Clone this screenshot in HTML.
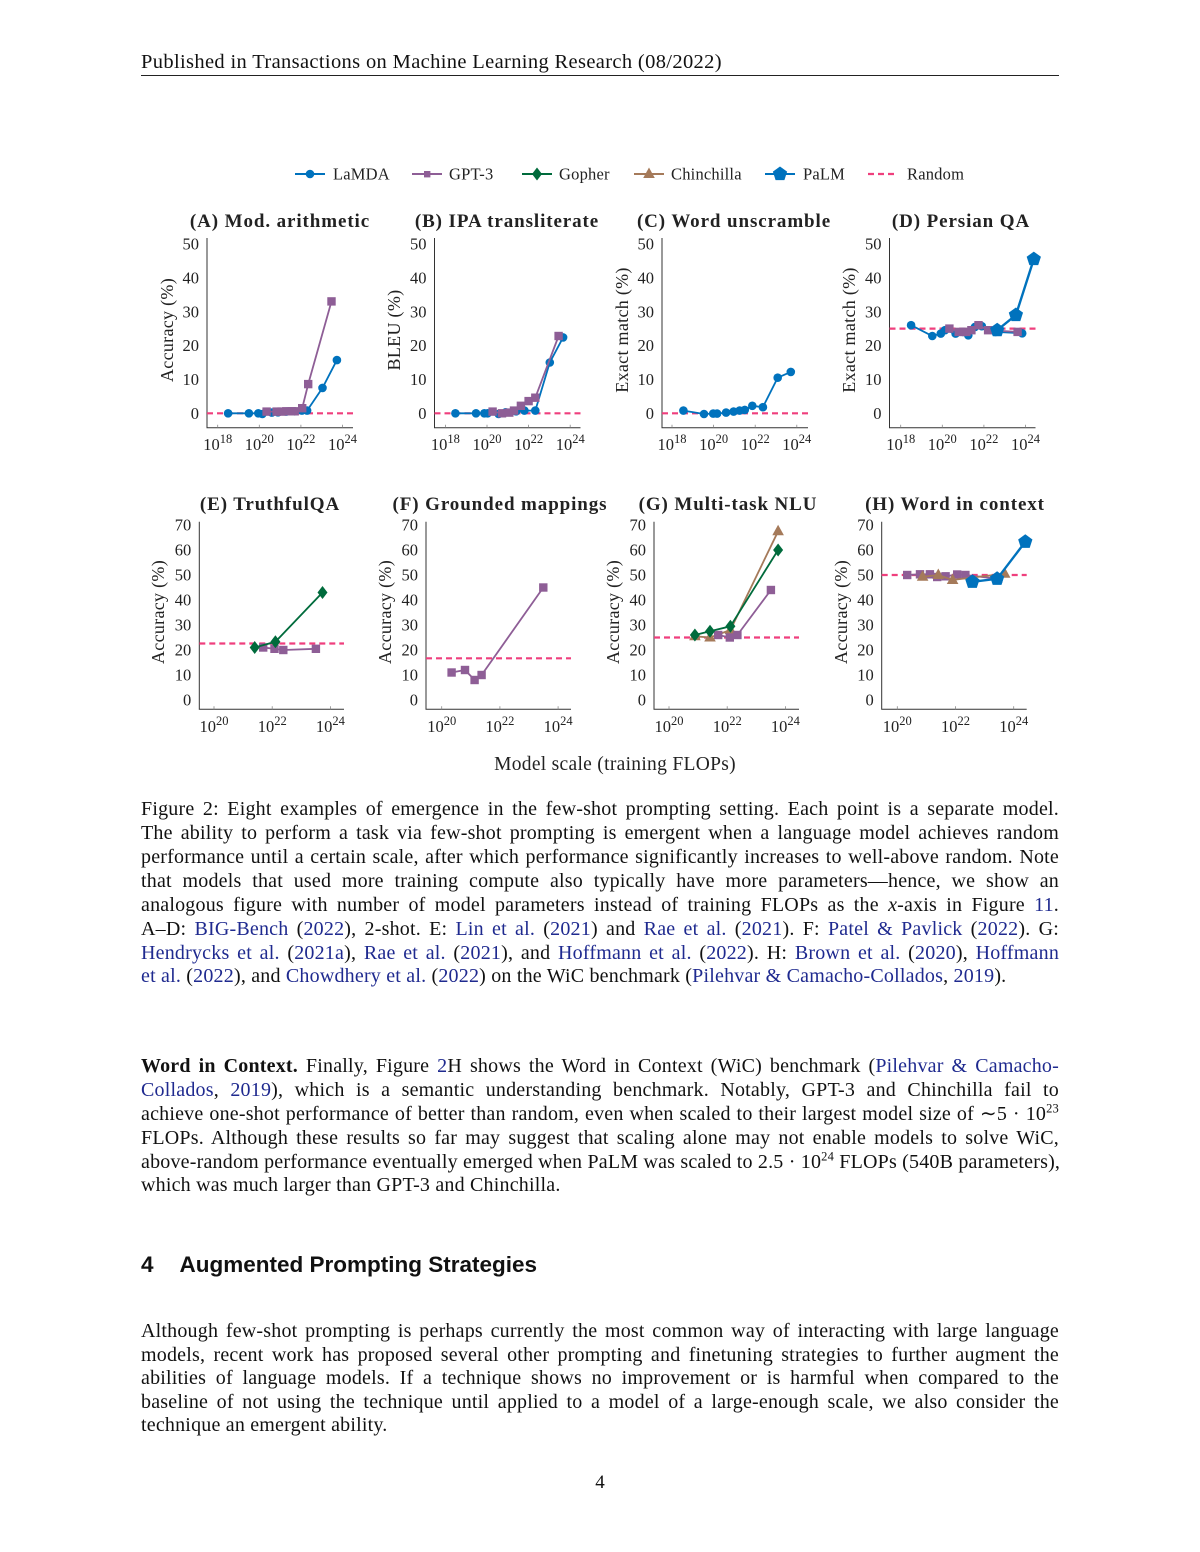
<!DOCTYPE html>
<html><head><meta charset="utf-8">
<style>
html,body{margin:0;padding:0;background:#fff;}
body{width:1200px;height:1552px;position:relative;overflow:hidden;font-family:"Liberation Serif",serif;color:#111;}
.l{position:absolute;left:141px;width:918px;height:24px;line-height:24px;font-size:20px;letter-spacing:0.2px;text-align:justify;text-align-last:justify;white-space:nowrap;}
.l.last{text-align-last:left;}
a{color:#1f2a8f;text-decoration:none;}
svg{position:absolute;left:0;top:0;}
sup{font-size:12.5px;line-height:0;}
</style></head><body>
<div style="position:absolute;left:141px;top:49px;font-size:20.5px;letter-spacing:0.35px;line-height:26px;">Published in Transactions on Machine Learning Research (08/2022)</div>
<div style="position:absolute;left:141px;top:75px;width:918px;height:1px;background:#222;"></div>

<svg width="1200" height="790" viewBox="0 0 1200 790" font-family="Liberation Serif, serif" fill="#222">
<defs>
<circle id="c" r="4.3"/>
<rect id="s" x="-4.2" y="-4.2" width="8.4" height="8.4"/>
<polygon id="d" points="0,-6.5 5,0 0,6.5 -5,0"/>
<polygon id="t" points="0,-6.5 5.8,4 -5.8,4"/>
<polygon id="p" points="0,-7.5 7.13,-2.32 4.41,6.07 -4.41,6.07 -7.13,-2.32"/>
</defs>
<!-- legend -->
<g font-size="16.5" letter-spacing="0.2">
<line x1="295" y1="174" x2="325" y2="174" stroke="#0072bd" stroke-width="2"/><use href="#c" x="310" y="174" fill="#0072bd"/><text x="333" y="179.5">LaMDA</text>
<line x1="412" y1="174" x2="442" y2="174" stroke="#8e5e96" stroke-width="2"/><rect x="424" y="171" width="6.4" height="6.4" fill="#8e5e96"/><text x="449" y="179.5">GPT-3</text>
<line x1="522" y1="174" x2="552" y2="174" stroke="#006b3c" stroke-width="2"/><use href="#d" x="537" y="174" fill="#006b3c"/><text x="559" y="179.5">Gopher</text>
<line x1="634" y1="174" x2="664" y2="174" stroke="#a57a5a" stroke-width="2"/><use href="#t" x="649" y="174" fill="#a57a5a"/><text x="671" y="179.5">Chinchilla</text>
<line x1="765" y1="174" x2="795" y2="174" stroke="#0072bd" stroke-width="2"/><use href="#p" x="780" y="174" fill="#0072bd"/><text x="803" y="179.5">PaLM</text>
<line x1="868" y1="174" x2="898" y2="174" stroke="#ef3f7d" stroke-width="2.2" stroke-dasharray="6,4"/><text x="907" y="179.5">Random</text>
</g>

<!-- titles -->
<g font-size="19" font-weight="bold" text-anchor="middle" letter-spacing="0.9">
<text x="280" y="227">(A) Mod. arithmetic</text>
<text x="507" y="227">(B) IPA transliterate</text>
<text x="734" y="227">(C) Word unscramble</text>
<text x="961" y="227">(D) Persian QA</text>
<text x="270" y="510">(E) TruthfulQA</text>
<text x="500" y="510">(F) Grounded mappings</text>
<text x="728" y="510">(G) Multi-task NLU</text>
<text x="955" y="510">(H) Word in context</text>
</g>

<!-- y labels -->
<g font-size="18" text-anchor="middle" letter-spacing="0.3">
<text transform="translate(173 330) rotate(-90)">Accuracy (%)</text>
<text transform="translate(400 330) rotate(-90)">BLEU (%)</text>
<text transform="translate(628 330) rotate(-90)">Exact match (%)</text>
<text transform="translate(855 330) rotate(-90)">Exact match (%)</text>
<text transform="translate(164 612) rotate(-90)">Accuracy (%)</text>
<text transform="translate(391 612) rotate(-90)">Accuracy (%)</text>
<text transform="translate(619 612) rotate(-90)">Accuracy (%)</text>
<text transform="translate(847 612) rotate(-90)">Accuracy (%)</text>
</g>

<!-- axes -->
<g stroke="#333" stroke-width="1" fill="none">
<path d="M207 238V427.7H353"/><path d="M434.5 238V427.7H580.5"/><path d="M662 238V427.7H808"/><path d="M889.5 238V427.7H1035.5"/>
<path d="M199.3 521.7V709.3H344"/><path d="M426 521.7V709.3H571"/><path d="M654 521.7V709.3H799"/><path d="M881.7 521.7V709.3H1026.7"/>
</g>
<g stroke="#888" stroke-width="0.8">
<path d="M217.7 427.7v-3M259.3 427.7v-3M300.9 427.7v-3M342.5 427.7v-3"/>
<path d="M445.4 427.7v-3M487 427.7v-3M528.6 427.7v-3M570.2 427.7v-3"/>
<path d="M672 427.7v-3M713.6 427.7v-3M755.2 427.7v-3M796.8 427.7v-3"/>
<path d="M900.7 427.7v-3M942.3 427.7v-3M983.9 427.7v-3M1025.5 427.7v-3"/>
<path d="M214 709.3v-3M272.2 709.3v-3M330.4 709.3v-3"/>
<path d="M441.7 709.3v-3M499.9 709.3v-3M558.1 709.3v-3"/>
<path d="M669 709.3v-3M727.2 709.3v-3M785.4 709.3v-3"/>
<path d="M897.3 709.3v-3M955.5 709.3v-3M1013.7 709.3v-3"/>
</g>

<!-- y tick labels -->
<g font-size="16.5" text-anchor="end">
<g transform="translate(199 0)"><text y="419">0</text><text y="385.1">10</text><text y="351.2">20</text><text y="317.3">30</text><text y="283.4">40</text><text y="249.5">50</text></g>
<g transform="translate(426.5 0)"><text y="419">0</text><text y="385.1">10</text><text y="351.2">20</text><text y="317.3">30</text><text y="283.4">40</text><text y="249.5">50</text></g>
<g transform="translate(654 0)"><text y="419">0</text><text y="385.1">10</text><text y="351.2">20</text><text y="317.3">30</text><text y="283.4">40</text><text y="249.5">50</text></g>
<g transform="translate(881.5 0)"><text y="419">0</text><text y="385.1">10</text><text y="351.2">20</text><text y="317.3">30</text><text y="283.4">40</text><text y="249.5">50</text></g>
<g transform="translate(191.3 0)"><text y="705.7">0</text><text y="680.7">10</text><text y="655.7">20</text><text y="630.7">30</text><text y="605.7">40</text><text y="580.7">50</text><text y="555.7">60</text><text y="530.7">70</text></g>
<g transform="translate(418 0)"><text y="705.7">0</text><text y="680.7">10</text><text y="655.7">20</text><text y="630.7">30</text><text y="605.7">40</text><text y="580.7">50</text><text y="555.7">60</text><text y="530.7">70</text></g>
<g transform="translate(646 0)"><text y="705.7">0</text><text y="680.7">10</text><text y="655.7">20</text><text y="630.7">30</text><text y="605.7">40</text><text y="580.7">50</text><text y="555.7">60</text><text y="530.7">70</text></g>
<g transform="translate(873.7 0)"><text y="705.7">0</text><text y="680.7">10</text><text y="655.7">20</text><text y="630.7">30</text><text y="605.7">40</text><text y="580.7">50</text><text y="555.7">60</text><text y="530.7">70</text></g>
</g>

<!-- x tick labels -->
<g font-size="16.5" text-anchor="middle">
<g transform="translate(0 450)">
<text x="217.7">10<tspan dy="-7" font-size="12.5">18</tspan></text><text x="259.3">10<tspan dy="-7" font-size="12.5">20</tspan></text><text x="300.9">10<tspan dy="-7" font-size="12.5">22</tspan></text><text x="342.5">10<tspan dy="-7" font-size="12.5">24</tspan></text>
<text x="445.4">10<tspan dy="-7" font-size="12.5">18</tspan></text><text x="487">10<tspan dy="-7" font-size="12.5">20</tspan></text><text x="528.6">10<tspan dy="-7" font-size="12.5">22</tspan></text><text x="570.2">10<tspan dy="-7" font-size="12.5">24</tspan></text>
<text x="672">10<tspan dy="-7" font-size="12.5">18</tspan></text><text x="713.6">10<tspan dy="-7" font-size="12.5">20</tspan></text><text x="755.2">10<tspan dy="-7" font-size="12.5">22</tspan></text><text x="796.8">10<tspan dy="-7" font-size="12.5">24</tspan></text>
<text x="900.7">10<tspan dy="-7" font-size="12.5">18</tspan></text><text x="942.3">10<tspan dy="-7" font-size="12.5">20</tspan></text><text x="983.9">10<tspan dy="-7" font-size="12.5">22</tspan></text><text x="1025.5">10<tspan dy="-7" font-size="12.5">24</tspan></text>
</g>
<g transform="translate(0 732)">
<text x="214">10<tspan dy="-7" font-size="12.5">20</tspan></text><text x="272.2">10<tspan dy="-7" font-size="12.5">22</tspan></text><text x="330.4">10<tspan dy="-7" font-size="12.5">24</tspan></text>
<text x="441.7">10<tspan dy="-7" font-size="12.5">20</tspan></text><text x="499.9">10<tspan dy="-7" font-size="12.5">22</tspan></text><text x="558.1">10<tspan dy="-7" font-size="12.5">24</tspan></text>
<text x="669">10<tspan dy="-7" font-size="12.5">20</tspan></text><text x="727.2">10<tspan dy="-7" font-size="12.5">22</tspan></text><text x="785.4">10<tspan dy="-7" font-size="12.5">24</tspan></text>
<text x="897.3">10<tspan dy="-7" font-size="12.5">20</tspan></text><text x="955.5">10<tspan dy="-7" font-size="12.5">22</tspan></text><text x="1013.7">10<tspan dy="-7" font-size="12.5">24</tspan></text>
</g>
</g>
<text x="615" y="770" font-size="19.5" letter-spacing="0.3" text-anchor="middle">Model scale (training FLOPs)</text>

<!-- random lines -->
<g stroke="#ef3f7d" stroke-width="2.2" stroke-dasharray="6,4">
<path d="M207 413.3H353M434.5 413.3H580.5M662 413.3H808M889.5 328.6H1035.5"/>
<path d="M199.3 643.5H344M426 658.3H571M654 637.5H799M881.7 575H1026.7"/>
</g>

<!-- Panel A -->
<polyline fill="none" stroke="#0072bd" stroke-width="1.8" points="228.1,413.3 248.9,413.3 258.3,413.3 262.4,414 271.8,412.6 278,412.3 286.3,411.6 294.7,411.3 301.9,410.6 307.1,410.6 322.5,387.9 336.9,360.1"/>
<g fill="#0072bd"><use href="#c" x="228.1" y="413.3"/><use href="#c" x="248.9" y="413.3"/><use href="#c" x="258.3" y="413.3"/><use href="#c" x="262.4" y="414"/><use href="#c" x="271.8" y="412.6"/><use href="#c" x="278" y="412.3"/><use href="#c" x="286.3" y="411.6"/><use href="#c" x="294.7" y="411.3"/><use href="#c" x="301.9" y="410.6"/><use href="#c" x="307.1" y="410.6"/><use href="#c" x="322.5" y="387.9"/><use href="#c" x="336.9" y="360.1"/></g>
<polyline fill="none" stroke="#8e5e96" stroke-width="1.8" points="266.6,411.6 276.6,411.6 281.6,411.6 286.3,411.3 291.5,411.3 294.7,411.3 302.2,408.2 308.2,384.1 331.5,301.4"/>
<g fill="#8e5e96"><use href="#s" x="266.6" y="411.6"/><use href="#s" x="276.6" y="411.6"/><use href="#s" x="281.6" y="411.6"/><use href="#s" x="286.3" y="411.3"/><use href="#s" x="291.5" y="411.3"/><use href="#s" x="294.7" y="411.3"/><use href="#s" x="302.2" y="408.2"/><use href="#s" x="308.2" y="384.1"/><use href="#s" x="331.5" y="301.4"/></g>

<!-- Panel B -->
<polyline fill="none" stroke="#0072bd" stroke-width="1.8" points="455.4,413.3 476,413.3 484.3,413.3 487.6,413.3 498.6,414 505.7,412.3 516.1,411.3 524.4,410.6 535.3,410.6 549.8,362.5 563.1,337.4"/>
<g fill="#0072bd"><use href="#c" x="455.4" y="413.3"/><use href="#c" x="476" y="413.3"/><use href="#c" x="484.3" y="413.3"/><use href="#c" x="487.6" y="413.3"/><use href="#c" x="498.6" y="414"/><use href="#c" x="505.7" y="412.3"/><use href="#c" x="516.1" y="411.3"/><use href="#c" x="524.4" y="410.6"/><use href="#c" x="535.3" y="410.6"/><use href="#c" x="549.8" y="362.5"/><use href="#c" x="563.1" y="337.4"/></g>
<polyline fill="none" stroke="#8e5e96" stroke-width="1.8" points="492.6,411.6 502,413.3 509.3,412.6 514,410.6 520.9,405.8 528.6,401.1 535.3,397.7 558.6,336"/>
<g fill="#8e5e96"><use href="#s" x="492.6" y="411.6"/><use href="#s" x="502" y="413.3"/><use href="#s" x="509.3" y="412.6"/><use href="#s" x="514" y="410.6"/><use href="#s" x="520.9" y="405.8"/><use href="#s" x="528.6" y="401.1"/><use href="#s" x="535.3" y="397.7"/><use href="#s" x="558.6" y="336"/></g>

<!-- Panel C -->
<polyline fill="none" stroke="#0072bd" stroke-width="1.8" points="683.4,410.6 704,414 713.2,413.6 717.1,413.6 726.1,412.6 733.6,411.6 739.6,410.6 744.8,409.9 752.3,405.8 762.9,407.2 777.7,377.7 790.8,371.9"/>
<g fill="#0072bd"><use href="#c" x="683.4" y="410.6"/><use href="#c" x="704" y="414"/><use href="#c" x="713.2" y="413.6"/><use href="#c" x="717.1" y="413.6"/><use href="#c" x="726.1" y="412.6"/><use href="#c" x="733.6" y="411.6"/><use href="#c" x="739.6" y="410.6"/><use href="#c" x="744.8" y="409.9"/><use href="#c" x="752.3" y="405.8"/><use href="#c" x="762.9" y="407.2"/><use href="#c" x="777.7" y="377.7"/><use href="#c" x="790.8" y="371.9"/></g>

<!-- Panel D -->
<polyline fill="none" stroke="#0072bd" stroke-width="1.8" points="911.1,325.2 932.3,336 940.8,333.6 945,330.2 955.6,333.6 963.1,331.9 968.3,335.3 975,326.9 981.8,326.2 995.5,331.9 1022.2,333.3"/>
<g fill="#0072bd"><use href="#c" x="911.1" y="325.2"/><use href="#c" x="932.3" y="336"/><use href="#c" x="940.8" y="333.6"/><use href="#c" x="945" y="330.2"/><use href="#c" x="955.6" y="333.6"/><use href="#c" x="963.1" y="331.9"/><use href="#c" x="968.3" y="335.3"/><use href="#c" x="975" y="326.9"/><use href="#c" x="981.8" y="326.2"/><use href="#c" x="995.5" y="331.9"/><use href="#c" x="1022.2" y="333.3"/></g>
<polyline fill="none" stroke="#8e5e96" stroke-width="1.8" points="949.4,328.6 958.7,331.9 963.1,331.9 966.4,331.9 971.4,330.2 978.5,325.2 988.1,330.2 1017.6,331.9"/>
<g fill="#8e5e96"><use href="#s" x="949.4" y="328.6"/><use href="#s" x="958.7" y="331.9"/><use href="#s" x="963.1" y="331.9"/><use href="#s" x="966.4" y="331.9"/><use href="#s" x="971.4" y="330.2"/><use href="#s" x="978.5" y="325.2"/><use href="#s" x="988.1" y="330.2"/><use href="#s" x="1017.6" y="331.9"/></g>
<polyline fill="none" stroke="#0072bd" stroke-width="2.4" points="997.2,330.2 1015.9,315 1033.8,259.1"/>
<g fill="#0072bd"><use href="#p" x="997.2" y="330.2"/><use href="#p" x="1015.9" y="315"/><use href="#p" x="1033.8" y="259.1"/></g>

<!-- Panel E -->
<polyline fill="none" stroke="#8e5e96" stroke-width="1.8" points="263.2,647.5 274.5,648.8 283.3,650 315.9,648.8"/>
<g fill="#8e5e96"><use href="#s" x="263.2" y="647.5"/><use href="#s" x="274.5" y="648.8"/><use href="#s" x="283.3" y="650"/><use href="#s" x="315.9" y="648.8"/></g>
<polyline fill="none" stroke="#006b3c" stroke-width="1.8" points="254.7,647.5 275.4,641.8 322.5,592.5"/>
<g fill="#006b3c"><use href="#d" x="254.7" y="647.5"/><use href="#d" x="275.4" y="641.8"/><use href="#d" x="322.5" y="592.5"/></g>

<!-- Panel F -->
<polyline fill="none" stroke="#8e5e96" stroke-width="1.8" points="451.6,672.5 465,670 474.6,680 481.6,675 543.3,587.5"/>
<g fill="#8e5e96"><use href="#s" x="451.6" y="672.5"/><use href="#s" x="465" y="670"/><use href="#s" x="474.6" y="680"/><use href="#s" x="481.6" y="675"/><use href="#s" x="543.3" y="587.5"/></g>

<!-- Panel G -->
<polyline fill="none" stroke="#a57a5a" stroke-width="1.8" points="694.9,636.3 710,637.5 730.4,630 778.1,531.3"/>
<g fill="#a57a5a"><use href="#t" x="694.9" y="636.3"/><use href="#t" x="710" y="637.5"/><use href="#t" x="730.4" y="630"/><use href="#t" x="778.1" y="531.3"/></g>
<polyline fill="none" stroke="#8e5e96" stroke-width="1.8" points="718.2,635 729.8,637.5 737.4,635 770.9,590"/>
<g fill="#8e5e96"><use href="#s" x="718.2" y="635"/><use href="#s" x="729.8" y="637.5"/><use href="#s" x="737.4" y="635"/><use href="#s" x="770.9" y="590"/></g>
<polyline fill="none" stroke="#006b3c" stroke-width="1.8" points="694.9,635 710,631.3 730.4,626.3 778.1,550"/>
<g fill="#006b3c"><use href="#d" x="694.9" y="635"/><use href="#d" x="710" y="631.3"/><use href="#d" x="730.4" y="626.3"/><use href="#d" x="778.1" y="550"/></g>

<!-- Panel H -->
<polyline fill="none" stroke="#8e5e96" stroke-width="1.8" points="907.2,575 920,574.3 929.9,574.3 937.2,577 945.6,576.3 957.2,574.5 965.4,575 998,578.8"/>
<g fill="#8e5e96"><use href="#s" x="907.2" y="575"/><use href="#s" x="920" y="574.3"/><use href="#s" x="929.9" y="574.3"/><use href="#s" x="937.2" y="577"/><use href="#s" x="945.6" y="576.3"/><use href="#s" x="957.2" y="574.5"/><use href="#s" x="965.4" y="575"/><use href="#s" x="998" y="578.8"/></g>
<polyline fill="none" stroke="#a57a5a" stroke-width="1.8" points="922.6,576.8 938.3,575 952.6,580 972.4,577.5 1004.7,573.8"/>
<g fill="#a57a5a"><use href="#t" x="922.6" y="576.8"/><use href="#t" x="938.3" y="575"/><use href="#t" x="952.6" y="580"/><use href="#t" x="1004.7" y="573.8"/></g>
<polyline fill="none" stroke="#0072bd" stroke-width="2.4" points="972.4,581.8 997.1,578.8 1025.3,541.8"/>
<g fill="#0072bd"><use href="#p" x="972.4" y="581.8"/><use href="#p" x="997.1" y="578.8"/><use href="#p" x="1025.3" y="541.8"/></g>
</svg>

<div class="l" style="top:797px">Figure 2: Eight examples of emergence in the few-shot prompting setting. Each point is a separate model.</div>
<div class="l" style="top:821px">The ability to perform a task via few-shot prompting is emergent when a language model achieves random</div>
<div class="l" style="top:845px">performance until a certain scale, after which performance significantly increases to well-above random. Note</div>
<div class="l" style="top:869px">that models that used more training compute also typically have more parameters—hence, we show an</div>
<div class="l" style="top:893px">analogous figure with number of model parameters instead of training FLOPs as the <i>x</i>-axis in Figure <a>11</a>.</div>
<div class="l" style="top:917px">A–D: <a>BIG-Bench</a> (<a>2022</a>), 2-shot. E: <a>Lin et al.</a> (<a>2021</a>) and <a>Rae et al.</a> (<a>2021</a>). F: <a>Patel &amp; Pavlick</a> (<a>2022</a>). G:</div>
<div class="l" style="top:941px"><a>Hendrycks et al.</a> (<a>2021a</a>), <a>Rae et al.</a> (<a>2021</a>), and <a>Hoffmann et al.</a> (<a>2022</a>). H: <a>Brown et al.</a> (<a>2020</a>), <a>Hoffmann</a></div>
<div class="l last" style="top:964px"><a>et al.</a> (<a>2022</a>), and <a>Chowdhery et al.</a> (<a>2022</a>) on the WiC benchmark (<a>Pilehvar &amp; Camacho-Collados</a>, <a>2019</a>).</div>

<div class="l" style="top:1054px"><b>Word in Context.</b> Finally, Figure <a>2</a>H shows the Word in Context (WiC) benchmark (<a>Pilehvar &amp; Camacho-</a></div>
<div class="l" style="top:1078px"><a>Collados</a>, <a>2019</a>), which is a semantic understanding benchmark. Notably, GPT-3 and Chinchilla fail to</div>
<div class="l" style="top:1102px">achieve one-shot performance of better than random, even when scaled to their largest model size of ∼5 · 10<sup>23</sup></div>
<div class="l" style="top:1126px">FLOPs. Although these results so far may suggest that scaling alone may not enable models to solve WiC,</div>
<div class="l" style="top:1150px">above-random performance eventually emerged when PaLM was scaled to 2.5 · 10<sup>24</sup> FLOPs (540B parameters),</div>
<div class="l last" style="top:1173px">which was much larger than GPT-3 and Chinchilla.</div>

<div style="position:absolute;left:141px;top:1250px;font-family:'Liberation Sans',sans-serif;font-weight:bold;font-size:22.5px;line-height:30px;">4<span style="display:inline-block;width:26px"></span>Augmented Prompting Strategies</div>

<div class="l" style="top:1319px">Although few-shot prompting is perhaps currently the most common way of interacting with large language</div>
<div class="l" style="top:1343px">models, recent work has proposed several other prompting and finetuning strategies to further augment the</div>
<div class="l" style="top:1366px">abilities of language models. If a technique shows no improvement or is harmful when compared to the</div>
<div class="l" style="top:1390px">baseline of not using the technique until applied to a model of a large-enough scale, we also consider the</div>
<div class="l last" style="top:1413px">technique an emergent ability.</div>

<div style="position:absolute;left:0;width:1200px;top:1471px;text-align:center;font-size:19px;line-height:24px;">4</div>
</body></html>
